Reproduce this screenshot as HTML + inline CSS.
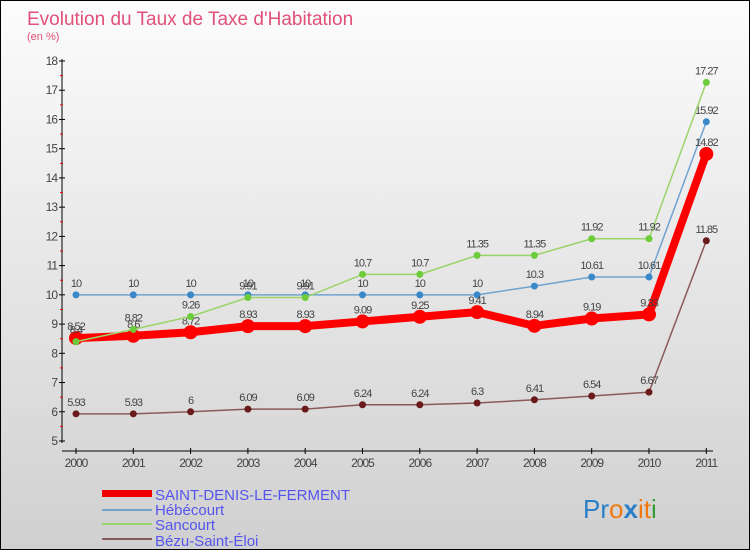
<!DOCTYPE html>
<html><head><meta charset="utf-8"><style>
body{margin:0;}
#c{width:750px;height:550px;position:relative;background:linear-gradient(#fcfcfc,#d0d0d0);border:1px solid #000;box-sizing:border-box;overflow:hidden;font-family:"Liberation Sans",sans-serif;}
svg text{font-family:"Liberation Sans",sans-serif;}
</style></head><body>
<div id="c">
<svg id="s" width="750" height="550" xmlns="http://www.w3.org/2000/svg">
<text x="26" y="24" font-size="19" fill="#e0507a">Evolution du Taux de Taxe d'Habitation</text>
<text x="26" y="39" font-size="11" fill="#e0507a">(en %)</text>
<g id="axes"></g><g id="series"></g>
<g>
<rect x="101" y="489" width="50" height="7" fill="#e00"/>
<text x="154" y="499" font-size="15" fill="#5555ee">SAINT-DENIS-LE-FERMENT</text>
<rect x="101" y="508" width="50" height="2" fill="#6fa3c8"/>
<text x="154" y="514" font-size="15" fill="#5555ee">Hébécourt</text>
<rect x="101" y="522" width="50" height="2" fill="#9bd46a"/>
<text x="154" y="529" font-size="15" fill="#5555ee">Sancourt</text>
<rect x="101" y="537" width="50" height="2" fill="#8a5a5a"/>
<text x="154" y="545" font-size="15" fill="#5555ee">Bézu-Saint-Éloi</text>
</g>
<text x="582" y="517" font-size="26"><tspan fill="#2a7fc8">Pr</tspan><tspan fill="#f07a10">o</tspan><tspan fill="#2a7fc8" font-weight="bold">x</tspan><tspan fill="#f07a10">it</tspan><tspan fill="#3a9a3a">i</tspan></text>
</svg></div>
<script>
const years=[2000,2001,2002,2003,2004,2005,2006,2007,2008,2009,2010,2011];
const yTicks=[5,6,7,8,9,10,11,12,13,14,15,16,17,18];
const saintDenis=[8.52,8.6,8.72,8.93,8.93,9.09,9.25,9.41,8.94,9.19,9.33,14.82];
const hebecourt=[10,10,10,10,10,10,10,10,10.3,10.61,10.61,15.92];
const sancourt=[8.4,8.82,9.26,9.91,9.91,10.7,10.7,11.35,11.35,11.92,11.92,17.27];
const bezu=[5.93,5.93,6,6.09,6.09,6.24,6.24,6.3,6.41,6.54,6.67,11.85];
const NS="http://www.w3.org/2000/svg";
const xs=i=>75+i*57.3;
const ys=v=>440-(v-5)*(380/13);
function mk(tag,attrs,parent){const e=document.createElementNS(NS,tag);for(const k in attrs)e.setAttribute(k,attrs[k]);parent.appendChild(e);return e;}
const ax=document.getElementById('axes');
let l=mk('line',{x1:61,y1:58,x2:61,y2:442,stroke:'#000','stroke-width':1},ax);


l=mk('line',{x1:61,y1:450,x2:712,y2:450,stroke:'#000','stroke-width':1},ax);


yTicks.forEach((v,i)=>{
 mk('line',{x1:58,y1:ys(v),x2:64,y2:ys(v),stroke:'#000'},ax);
 if(i<yTicks.length-1) mk('line',{x1:59,y1:ys(v+0.5),x2:62,y2:ys(v+0.5),stroke:'#e00'},ax);
 const t=mk('text',{x:56,y:ys(v)+4,'font-size':12,fill:'#444','text-anchor':'end','letter-spacing':'-1'},ax);
 t.textContent=v;
 
 
});
years.forEach((y,i)=>{
 mk('line',{x1:xs(i),y1:447,x2:xs(i),y2:453,stroke:'#000'},ax);
 const t=mk('text',{x:xs(i),y:466,'font-size':12,fill:'#444','text-anchor':'middle','letter-spacing':'-1'},ax);
 t.textContent=y;
 
 
});
const sg=document.getElementById('series');
function draw(vals,color,dot,w,r,name){
 const g=mk('g',{},sg);
 
 
 mk('polyline',{points:vals.map((v,i)=>xs(i)+','+ys(v)).join(' '),fill:'none',stroke:color,'stroke-width':w,'stroke-linejoin':'round'},g);
 vals.forEach((v,i)=>{
  const c=mk('circle',{cx:xs(i),cy:ys(v),r:r,fill:dot},g);
  
  
  const t=mk('text',{x:xs(i),y:ys(v)-8,'font-size':11,fill:'#444','text-anchor':'middle','letter-spacing':'-1'},g);
  t.textContent=v;
  
  
 });
}
draw(bezu,'#8a5a5a','#6a1a1a',1.5,3.5,'bezu-series');
draw(hebecourt,'#6fa3d0','#3a88c8',1.5,3.5,'hebecourt-series');
draw(saintDenis,'#f00','#f00',8,7,'saint-denis-series');
draw(sancourt,'#9bd46a','#6ccc3a',1.5,3.5,'sancourt-series');
</script>
</body></html>
